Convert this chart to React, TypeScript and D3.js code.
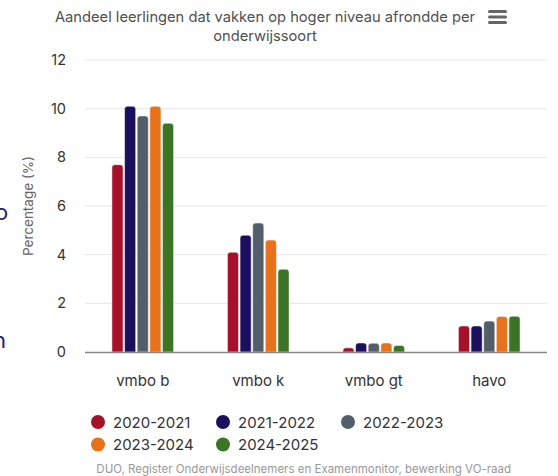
import { useEffect, useRef } from 'react';
import * as d3 from 'd3';

const categories = ['vmbo b', 'vmbo k', 'vmbo gt', 'havo'];
const seriesNames = ['2020-2021', '2021-2022', '2022-2023', '2023-2024', '2024-2025'];
const seriesColors = ['#a6102b', '#1c0f5e', '#525e6a', '#e8721a', '#3b7425'];
const values2020 = [7.7, 4.1, 0.17, 1.07];
const values2021 = [10.1, 4.8, 0.37, 1.07];
const values2022 = [9.7, 5.3, 0.36, 1.27];
const values2023 = [10.1, 4.6, 0.37, 1.46];
const values2024 = [9.4, 3.4, 0.27, 1.47];
const yTicks = [0, 2, 4, 6, 8, 10, 12];

const W = 558;
const H = 476;
const FONT = 'Inter, "Noto Sans", sans-serif';

function roundTopRect(x: number, y: number, w: number, h: number, r: number) {
  const rr = Math.min(r, w / 2, h);
  return `M${x},${y + h}V${y + rr}Q${x},${y} ${x + rr},${y}H${x + w - rr}Q${x + w},${y} ${x + w},${y + rr}V${y + h}Z`;
}

export default function App() {
  const svgRef = useRef<SVGSVGElement>(null);

  useEffect(() => {
    const svg = d3.select(svgRef.current);
    svg.selectAll('*').remove();

    const series = [values2020, values2021, values2022, values2023, values2024];
    const margin = { top: 60, right: 11, bottom: 124, left: 85 };
    const width = W - margin.left - margin.right;
    const height = H - margin.top - margin.bottom;

    const x0 = d3.scaleBand().domain(categories).range([0, width]).paddingInner(0).paddingOuter(0);
    const x1 = d3.scaleBand().domain(seriesNames).range([x0.bandwidth() * 0.22, x0.bandwidth() * 0.78]).padding(0.12);
    const y = d3.scaleLinear().domain([0, 12]).range([height, 0]);

    // title
    const title = svg.append('text').attr('text-anchor', 'middle').attr('font-family', FONT)
      .attr('font-size', 14.7).attr('fill', '#505050');
    title.append('tspan').attr('x', 265).attr('y', 22).text('Aandeel leerlingen dat vakken op hoger niveau afrondde per');
    title.append('tspan').attr('x', 265).attr('y', 41).text('onderwijssoort');

    // menu icon
    [0, 1, 2].forEach(i => {
      svg.append('rect').attr('x', 488).attr('y', 10 + i * 5.5).attr('width', 19).attr('height', 3)
        .attr('rx', 1.5).attr('fill', '#666');
    });

    // fragments of page text behind chart
    svg.append('text').attr('x', -5).attr('y', 220).attr('font-family', FONT).attr('font-size', 22)
      .attr('fill', '#2b2170').text('o');
    svg.append('text').attr('x', -7).attr('y', 348).attr('font-family', FONT).attr('font-size', 22)
      .attr('fill', '#2b2170').text('n');

    const g = svg.append('g').attr('transform', `translate(${margin.left},${margin.top})`);

    // grid
    g.selectAll('.grid').data(yTicks.filter(t => t > 0)).enter().append('line')
      .attr('x1', 0).attr('x2', width)
      .attr('y1', d => y(d)).attr('y2', d => y(d))
      .attr('stroke', '#e6e6e6').attr('stroke-width', 1);

    // y labels
    g.selectAll('.ylab').data(yTicks).enter().append('text')
      .attr('x', -19).attr('y', d => y(d) + 5)
      .attr('text-anchor', 'end').attr('font-family', FONT).attr('font-size', 14.5).attr('fill', '#333')
      .text(d => d);

    // y title
    g.append('text')
      .attr('transform', `translate(${-52},${height / 2}) rotate(-90)`)
      .attr('text-anchor', 'middle').attr('font-family', FONT).attr('font-size', 13.5).attr('fill', '#666')
      .text('Percentage (%)');

    // bars
    categories.forEach((c, ci) => {
      const cg = g.append('g').attr('transform', `translate(${x0(c)},0)`);
      seriesNames.forEach((s, si) => {
        const v = series[si][ci];
        cg.append('path')
          .attr('d', roundTopRect(x1(s)!, y(v), x1.bandwidth(), y(0) - y(v), 3))
          .attr('fill', seriesColors[si])
          .attr('stroke', '#fff').attr('stroke-width', 0.5);
      });
    });

    // x axis line
    g.append('line').attr('x1', 0).attr('x2', width).attr('y1', y(0) + 0.5).attr('y2', y(0) + 0.5)
      .attr('stroke', '#888').attr('stroke-width', 1.5);

    // x labels
    g.selectAll('.xlab').data(categories).enter().append('text')
      .attr('x', d => x0(d)! + x0.bandwidth() / 2).attr('y', height + 34)
      .attr('text-anchor', 'middle').attr('font-family', FONT).attr('font-size', 15).attr('fill', '#333')
      .text(d => d);

    // legend
    const leg = svg.append('g');
    seriesNames.forEach((s, i) => {
      const col = i % 3;
      const row = Math.floor(i / 3);
      const lx = 98 + col * 125;
      const ly = 422 + row * 22.5;
      leg.append('circle').attr('cx', lx).attr('cy', ly).attr('r', 7).attr('fill', seriesColors[i]);
      leg.append('text').attr('x', lx + 15).attr('y', ly + 5.5)
        .attr('font-family', FONT).attr('font-size', 15).attr('fill', '#333').text(s);
    });

    // credits
    svg.append('text').attr('x', 511).attr('y', 473).attr('text-anchor', 'end')
      .attr('font-family', FONT).attr('font-size', 11.5).attr('fill', '#999')
      .text('DUO, Register Onderwijsdeelnemers en Examenmonitor, bewerking VO-raad');
  }, []);

  return (
    <svg ref={svgRef} width={W} height={H} viewBox={`0 0 ${W} ${H}`}
      style={{ position: 'absolute', left: 0, top: 0, background: '#fff' }} />
  );
}
